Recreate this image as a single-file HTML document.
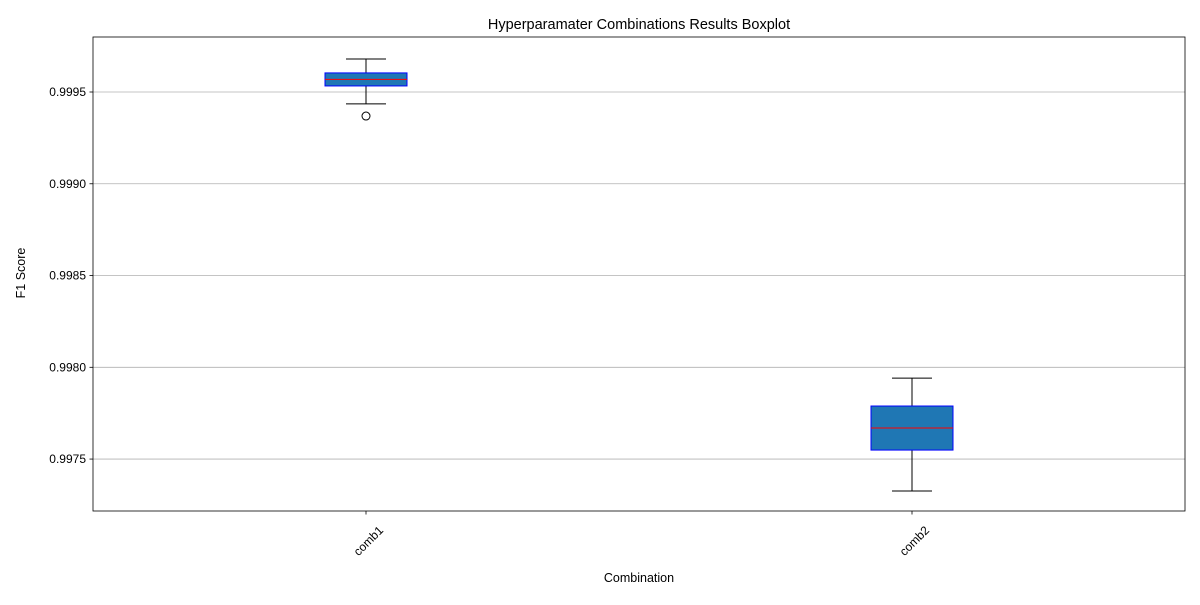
<!DOCTYPE html>
<html><head><meta charset="utf-8"><style>
body{margin:0;background:#fff;font-family:"Liberation Sans","DejaVu Sans",sans-serif;}
</style></head><body>
<svg id="chart" width="1200" height="600" xmlns="http://www.w3.org/2000/svg" font-family="Liberation Sans, DejaVu Sans, sans-serif"></svg>
<script>
const categories = ["comb1", "comb2"];
const whiskerHigh = [0.99968, 0.997941];
const q3 = [0.999604, 0.997789];
const medians = [0.999569, 0.997669];
const q1 = [0.999533, 0.997549];
const whiskerLow = [0.999435, 0.997326];
const outliers = [[0.999369], []];
const yTicks = [0.9975, 0.9980, 0.9985, 0.9990, 0.9995];
const yTickLabels = ["0.9975", "0.9980", "0.9985", "0.9990", "0.9995"];

const svg = document.getElementById('chart');
const NS = 'http://www.w3.org/2000/svg';
const L = 93, R = 1185, T = 37, B = 511;
const yMin = 0.997217, yMax = 0.9997997;
const y = v => B - (v - yMin) / (yMax - yMin) * (B - T);
const xPos = [366, 912];
const x = i => xPos[i];
function mk(tag, attrs, parent) {
  const e = document.createElementNS(NS, tag);
  for (const k in attrs) e.setAttribute(k, attrs[k]);
  (parent || svg).appendChild(e);
  return e;
}
yTicks.forEach((t, i) => {
  const g = mk('line', {x1: L, x2: R, y1: y(t), y2: y(t), stroke: '#b0b0b0', 'stroke-width': 0.8});
  
  
  const tk = mk('line', {x1: L - 3.5, x2: L, y1: y(t), y2: y(t), stroke: '#000', 'stroke-width': 0.8});
  
  
  const tx = mk('text', {x: L - 7, y: y(t) + 4, 'text-anchor': 'end', 'font-size': 12});
  tx.textContent = yTickLabels[i];
  
  
});
categories.forEach((c, i) => {
  const cx = x(i);
  const g = mk('g', {});
  
  
  mk('line', {x1: cx, x2: cx, y1: y(whiskerHigh[i]), y2: y(q3[i]), stroke: '#000', 'stroke-width': 1}, g);
  mk('line', {x1: cx, x2: cx, y1: y(q1[i]), y2: y(whiskerLow[i]), stroke: '#000', 'stroke-width': 1}, g);
  mk('line', {x1: cx - 20, x2: cx + 20, y1: y(whiskerHigh[i]), y2: y(whiskerHigh[i]), stroke: '#000', 'stroke-width': 1}, g);
  mk('line', {x1: cx - 20, x2: cx + 20, y1: y(whiskerLow[i]), y2: y(whiskerLow[i]), stroke: '#000', 'stroke-width': 1}, g);
  mk('rect', {x: cx - 41, y: y(q3[i]), width: 82, height: y(q1[i]) - y(q3[i]), fill: '#1f77b4', stroke: '#0000ff', 'stroke-width': 1}, g);
  mk('line', {x1: cx - 41, x2: cx + 41, y1: y(medians[i]), y2: y(medians[i]), stroke: '#ff0000', 'stroke-width': 1}, g);
  outliers[i].forEach(o => {
    const p = mk('circle', {cx: cx, cy: y(o), r: 4, fill: 'none', stroke: '#000', 'stroke-width': 1}, g);
    
    
  });
  const tk = mk('line', {x1: cx, x2: cx, y1: B, y2: B + 3.5, stroke: '#000', 'stroke-width': 0.8});
  
  
  const ax = cx + 18, ay = B + 20;
  const tx = mk('text', {x: ax, y: ay, 'text-anchor': 'end', 'font-size': 12, transform: `rotate(-45 ${ax} ${ay})`});
  tx.textContent = c;
  
  
});
const frame = mk('rect', {x: L, y: T, width: R - L, height: B - T, fill: 'none', stroke: '#000', 'stroke-width': 0.8});


const title = mk('text', {x: (L + R) / 2, y: 29, 'text-anchor': 'middle', 'font-size': 14.5});
title.textContent = 'Hyperparamater Combinations Results Boxplot';


const xt = mk('text', {x: (L + R) / 2, y: 582, 'text-anchor': 'middle', 'font-size': 12.5});
xt.textContent = 'Combination';


const yt = mk('text', {x: 25, y: 273, 'text-anchor': 'middle', 'font-size': 12.5, transform: `rotate(-90 25 273)`});
yt.textContent = 'F1 Score';


</script>
</body></html>
